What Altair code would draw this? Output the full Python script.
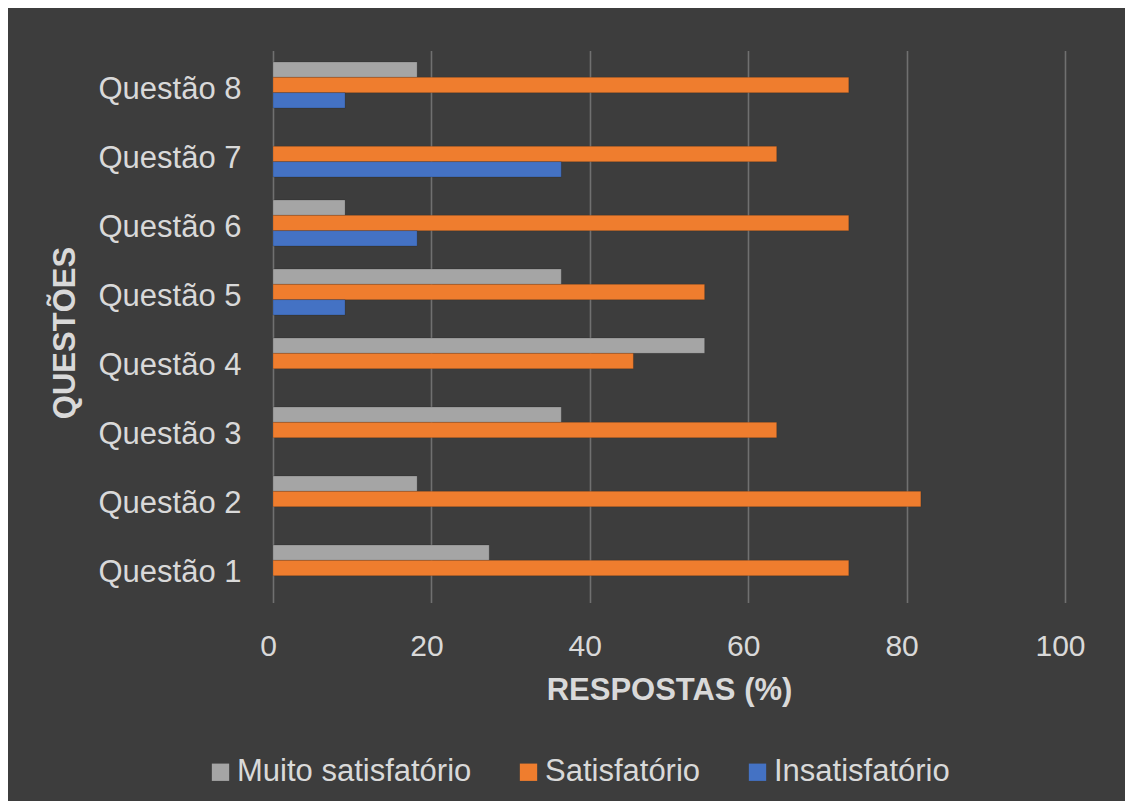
import altair as alt
import pandas as pd

questions = ["Questão 1", "Questão 2", "Questão 3", "Questão 4",
             "Questão 5", "Questão 6", "Questão 7", "Questão 8"]
series = ["Muito satisfatório", "Satisfatório", "Insatisfatório"]
muito_satisfatorio = [27.3, 18.2, 36.4, 54.5, 36.4, 9.1, None, 18.2]
satisfatorio = [72.7, 81.8, 63.6, 45.5, 54.5, 72.7, 63.6, 72.7]
insatisfatorio = [None, None, None, None, 9.1, 18.2, 36.4, 9.1]
colors = ["#a5a5a5", "#ef7d2e", "#4472c4"]
x_ticks = [0, 20, 40, 60, 80, 100]

rows = []
for name, vals in zip(series, [muito_satisfatorio, satisfatorio, insatisfatorio]):
    for q, v in zip(questions, vals):
        if v is not None:
            rows.append({"Questão": q, "Série": name, "Valor": v})
df = pd.DataFrame(rows)

FONT = "Liberation Sans"
TEXT = "#d9d9d9"

bars = alt.Chart(df).mark_bar(stroke="#00000033", strokeWidth=0.8).encode(
    y=alt.Y("Questão:N", sort=list(reversed(questions)),
            scale=alt.Scale(paddingInner=0.333, paddingOuter=0.1665),
            axis=alt.Axis(title="QUESTÕES", labelFontSize=31, labelColor=TEXT,
                          labelFont=FONT, labelPadding=32, labelOffset=5,
                          labelLimit=0,
                          ticks=False, domain=False, grid=False,
                          titleFont=FONT, titleFontSize=31, titleFontWeight="bold",
                          titleColor=TEXT, titleAngle=-90, titleX=-208, titleY=282,
                          titleAlign="center", titleBaseline="middle")),
    yOffset=alt.YOffset("Série:N", sort=series,
                        scale=alt.Scale(domain=series, paddingInner=0, paddingOuter=0)),
    x=alt.X("Valor:Q", scale=alt.Scale(domain=[0, 100], nice=False),
            axis=alt.Axis(title="RESPOSTAS (%)", values=x_ticks, labelFontSize=30,
                          labelColor=TEXT, labelFont=FONT, labelPadding=29,
                          labelOffset=-5, labelFlush=False, ticks=False, domain=False,
                          gridColor="#707070", gridWidth=1.6,
                          titleFont=FONT, titleFontSize=31, titleFontWeight="bold",
                          titleColor=TEXT, titlePadding=14)),
    color=alt.Color("Série:N", sort=series,
                    scale=alt.Scale(domain=series, range=colors),
                    legend=alt.Legend(title=None, orient="none", direction="horizontal",
                                      legendX=-68, legendY=706, symbolType="square",
                                      symbolSize=300, symbolStrokeWidth=0,
                                      labelFont=FONT, labelFontSize=31,
                                      labelColor=TEXT, labelOffset=1, labelLimit=0,
                                      columnPadding=41, padding=0)),
)

chart = bars.properties(
    width=792, height=552,
    autosize=alt.AutoSizeParams(type="none"),
    padding={"left": 265, "top": 42.5, "right": 60, "bottom": 198},
    background="#3d3d3d",
).configure_view(stroke=None)

chart.save("out.html", embed_options={"renderer": "svg", "actions": False})
